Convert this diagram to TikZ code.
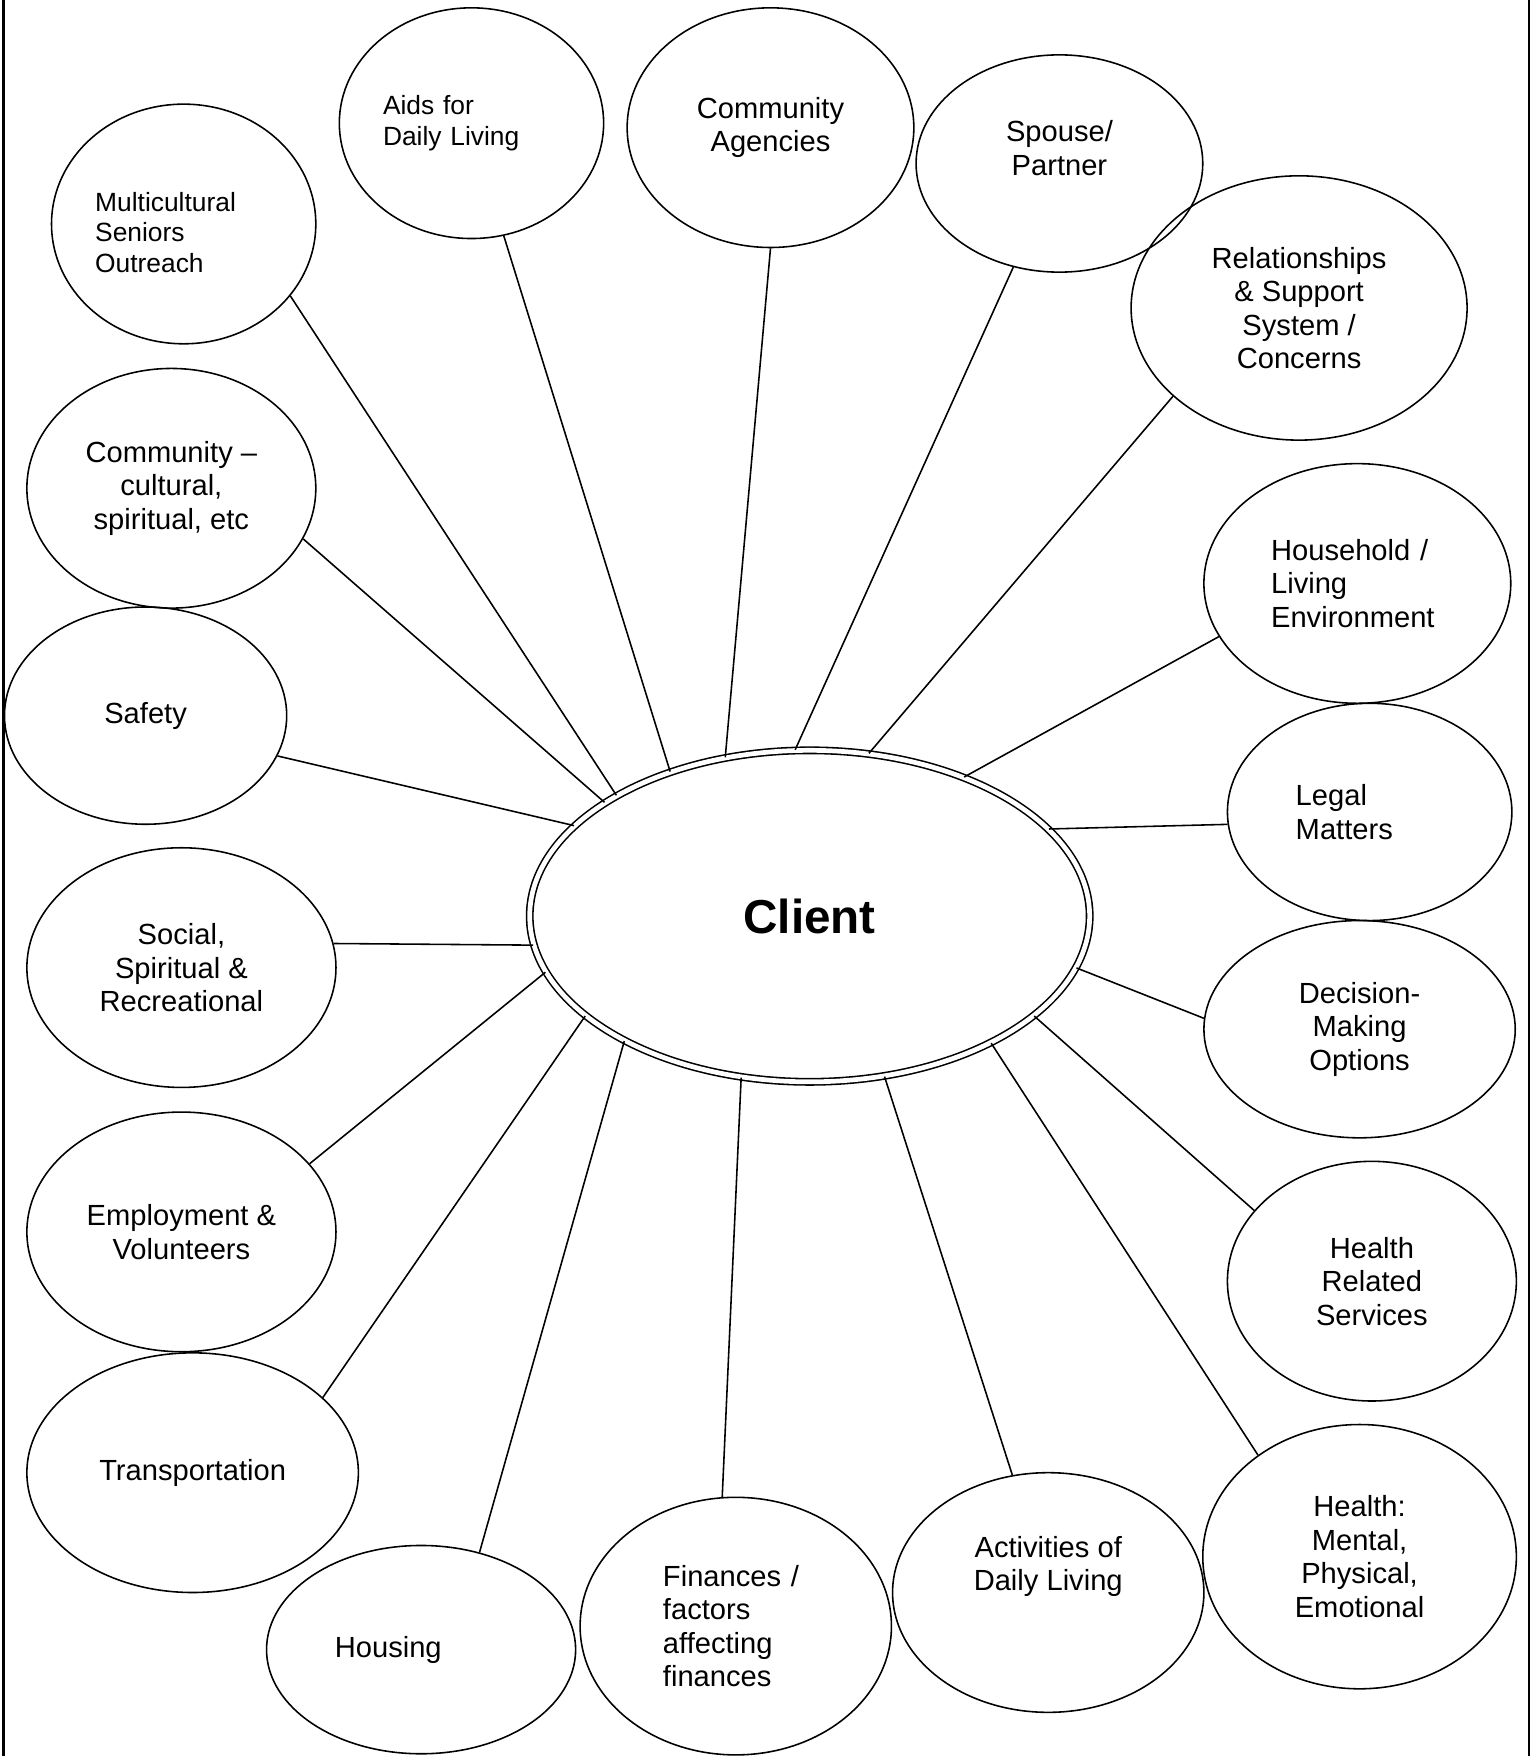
\documentclass[tikz,border=0pt]{standalone}
\usepackage{fontspec}
\setmainfont{Liberation Sans}
\usetikzlibrary{shapes.geometric}

\begin{document}
\begin{tikzpicture}[
    bub/.style={draw, ellipse, inner sep=0pt, align=center, font=\fontsize{7.4}{8.5}\selectfont},
    bubsmall/.style={bub, font=\fontsize{6.7}{7.7}\selectfont}
  ]
        \useasboundingbox (0,0) rectangle (13.67,-15.68);
        \draw[line width=0.6pt] (0.03,0) -- (0.03,-15.68);
        \draw[line width=0.6pt] (13.65,0) -- (13.65,-15.68);

        \node[draw, ellipse, double, double distance=1.2pt, minimum width=5.0cm, minimum height=2.96cm, font=\fontsize{12.1}{14}\selectfont\bfseries] (client) at (7.23, -8.18) {Client};

        \node[bubsmall, minimum width=2.36cm, minimum height=2.14cm, text width=1.58cm, align=left, text height=0.32cm] (mso) at (1.64, -2.00) {Multicultural\\Seniors\\Outreach};
        \node[bubsmall, minimum width=2.36cm, minimum height=2.06cm, text width=1.58cm, align=left] (aids) at (4.21, -1.10) {Aids for\\Daily Living};
        \node[bub, minimum width=2.56cm, minimum height=2.14cm] (agen) at (6.88, -1.14) {Community\\Agencies};
        \node[bub, minimum width=2.56cm, minimum height=1.94cm, text depth=0.28cm] (spouse) at (9.46, -1.46) {Spouse/\\Partner};
        \node[bub, minimum width=3.00cm, minimum height=2.36cm] (rel) at (11.60, -2.75) {Relationships\\\& Support\\System /\\Concerns};
        \node[bub, minimum width=2.74cm, minimum height=2.14cm, text width=1.54cm, align=left] (house) at (12.12, -5.21) {Household /\\Living\\Environment};
        \node[bub, minimum width=2.54cm, minimum height=1.94cm, text width=1.32cm, align=left] (legal) at (12.23, -7.25) {Legal\\Matters};
        \node[bub, minimum width=2.78cm, minimum height=1.94cm] (dec) at (12.14, -9.19) {Decision-\\Making\\Options};
        \node[bub, minimum width=2.58cm, minimum height=2.14cm] (hrs) at (12.25, -11.44) {Health\\Related\\Services};
        \node[bub, minimum width=2.80cm, minimum height=2.36cm] (hmpe) at (12.14, -13.90) {Health:\\Mental,\\Physical,\\Emotional};
        \node[bub, minimum width=2.78cm, minimum height=2.14cm, text depth=0.52cm] (act) at (9.36, -14.22) {Activities of\\Daily Living};
        \node[bub, minimum width=2.78cm, minimum height=2.30cm, text width=1.30cm, align=left] (fin) at (6.57, -14.52) {Finances /\\factors\\affecting\\finances};
        \node[bub, minimum width=2.76cm, minimum height=1.86cm, text width=1.54cm, align=left] (hous) at (3.76, -14.73) {Housing};
        \node[bub, minimum width=2.96cm, minimum height=2.14cm] (trans) at (1.72, -13.15) {Transportation};
        \node[bub, minimum width=2.76cm, minimum height=2.14cm] (emp) at (1.62, -11.00) {Employment \&\\Volunteers};
        \node[bub, minimum width=2.76cm, minimum height=2.14cm] (soc) at (1.62, -8.64) {Social,\\Spiritual \&\\Recreational};
        \node[bub, minimum width=2.52cm, minimum height=1.94cm] (safe) at (1.30, -6.39) {Safety};
        \node[bub, minimum width=2.58cm, minimum height=2.14cm] (ccult) at (1.53, -4.36) {Community –\\cultural,\\spiritual, etc};

        \draw (mso.-34) -- (client.148);
        \draw (aids.-74) -- (client.134);
        \draw (agen.-90) -- (client.118);
        \draw (spouse.-114) -- (client.95);
        \draw (rel.-145) -- (client.70);
        \draw (house.-159) -- (client.42);
        \draw (legal.-175) -- (client.20);
        \draw (dec.176) -- (client.-11);
        \draw (hrs.149) -- (client.-24);
        \draw (hmpe.135) -- (client.-35);
        \draw (act.107) -- (client.-65);
        \draw (fin.96) -- (client.-113);
        \draw (hous.59) -- (client.-146);
        \draw (trans.30) -- (client.-156);
        \draw (emp.28) -- (client.-168);
        \draw (soc.9) -- (client.-174);
        \draw (safe.-17) -- (client.159);
        \draw (ccult.-21) -- (client.151);
      \end{tikzpicture}
\end{document}
